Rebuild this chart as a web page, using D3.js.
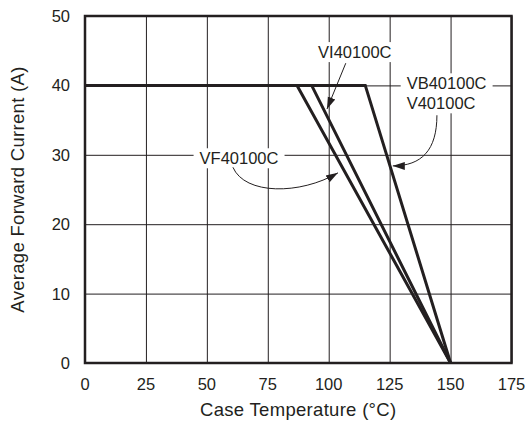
<!DOCTYPE html>
<html>
<head>
<meta charset="utf-8">
<script src="https://cdn.jsdelivr.net/npm/d3@7"></script>
<style>
  body { margin: 0; background: #fff; }
  text { font-family: "Liberation Sans", Arial, Helvetica, sans-serif; fill: #231f20; }
</style>
</head>
<body>
<div id="chart"></div>
<script>
// derating curves: flat at max current up to the knee, then linear down to 0 A
var seriesNames = ["VF40100C", "VI40100C", "VB40100C"];
var maxCurrent = [40, 40, 40];
var kneeTemps = [87, 93, 115];
var endTemps = [150, 150, 150];

var xTicks = [0, 25, 50, 75, 100, 125, 150, 175];
var yTicks = [0, 10, 20, 30, 40, 50];

const width = 525;
const height = 423;
const ink = "#231f20";

var svg = d3.select("#chart").append("svg")
    .attr("width", width)
    .attr("height", height);

var x = d3.scaleLinear().domain([0, 175]).range([85, 511.5]);
var y = d3.scaleLinear().domain([0, 50]).range([363, 16]);

// grid
svg.append("g")
    .attr("transform", "translate(0," + y(0) + ")")
    .call(d3.axisBottom(x).tickValues(xTicks).tickSize(-(y(0) - y(50))).tickFormat(""))
    .call(g => g.select(".domain").remove())
    .selectAll("line")
    .attr("stroke", ink)
    .attr("stroke-width", 1);

svg.append("g")
    .attr("transform", "translate(" + x(0) + ",0)")
    .call(d3.axisLeft(y).tickValues(yTicks).tickSize(-(x(175) - x(0))).tickFormat(""))
    .call(g => g.select(".domain").remove())
    .selectAll("line")
    .attr("stroke", ink)
    .attr("stroke-width", 1);

// tick labels
svg.append("g").selectAll("text")
    .data(xTicks).enter()
    .append("text")
    .attr("x", d => x(d))
    .attr("y", 390)
    .attr("text-anchor", "middle")
    .attr("font-size", "16.5px")
    .text(d => d);

svg.append("g").selectAll("text")
    .data(yTicks).enter()
    .append("text")
    .attr("x", 70)
    .attr("y", d => y(d) + 6)
    .attr("text-anchor", "end")
    .attr("font-size", "16.5px")
    .text(d => d);

// axis titles
svg.append("text")
    .attr("x", (x(0) + x(175)) / 2)
    .attr("y", 416)
    .attr("text-anchor", "middle")
    .attr("font-size", "18.5px")
    .attr("letter-spacing", "0.3px")
    .text("Case Temperature (°C)");

svg.append("text")
    .attr("transform", "translate(24," + (y(0) + y(50)) / 2 + ") rotate(-90)")
    .attr("text-anchor", "middle")
    .attr("font-size", "18.5px")
    .attr("letter-spacing", "0.3px")
    .text("Average Forward Current (A)");

// arrow marker
svg.append("defs").append("marker")
    .attr("id", "arrow")
    .attr("markerUnits", "userSpaceOnUse")
    .attr("viewBox", "0 -5 12 10")
    .attr("refX", 12)
    .attr("refY", 0)
    .attr("markerWidth", 12)
    .attr("markerHeight", 10)
    .attr("orient", "auto")
    .append("path")
    .attr("d", "M0,-4L12,0L0,4Z")
    .attr("fill", ink);

// label backgrounds + text
function label(lines, tx, ty, anchor, lineGap) {
    var g = svg.append("g");
    var bg = g.append("rect").attr("fill", "#fff");
    var t = g.append("text")
        .attr("font-size", "16.5px")
        .attr("text-anchor", anchor);
    lines.forEach((s, i) => {
        t.append("tspan")
            .attr("x", x(tx))
            .attr("y", y(ty) + 6 + i * lineGap)
            .text(s);
    });
    var b = t.node().getBBox();
    bg.attr("x", b.x - 6).attr("y", b.y - 1)
        .attr("width", b.width + 12).attr("height", b.height + 2);
}

var line = d3.line().x(d => x(d[0])).y(d => y(d[1]));

seriesNames.forEach((name, i) => {
    svg.append("path")
        .datum([[0, maxCurrent[i]], [kneeTemps[i], maxCurrent[i]], [endTemps[i], 0]])
        .attr("d", line)
        .attr("fill", "none")
        .attr("stroke", ink)
        .attr("stroke-width", 3)
        .attr("stroke-linejoin", "miter");
});

label(["VI40100C"], 110.7, 44.8, "middle", 0);
label(["VB40100C", "V40100C"], 132, 40.3, "start", 20);
label(["VF40100C"], 63.2, 29.5, "middle", 0);

// leaders
svg.append("path")
    .attr("d", "M" + x(107) + "," + y(43.2) + "L" + x(99.3) + "," + y(36.6))
    .attr("fill", "none")
    .attr("stroke", ink)
    .attr("stroke-width", 1)
    .attr("marker-end", "url(#arrow)");

svg.append("path")
    .attr("d", "M" + x(144.4) + "," + y(35.7) +
        "C" + x(144.4) + "," + y(30.7) + " " + x(138.2) + "," + y(28.4) + " " + x(126.3) + "," + y(28.4))
    .attr("fill", "none")
    .attr("stroke", ink)
    .attr("stroke-width", 1)
    .attr("marker-end", "url(#arrow)");

svg.append("path")
    .attr("d", "M" + x(60.7) + "," + y(28.2) +
        "C" + x(65.6) + "," + y(24.2) + " " + x(88.2) + "," + y(24.2) + " " + x(103.8) + "," + y(27.4))
    .attr("fill", "none")
    .attr("stroke", ink)
    .attr("stroke-width", 1)
    .attr("marker-end", "url(#arrow)");

// frame
svg.append("rect")
    .attr("x", x(0))
    .attr("y", y(50))
    .attr("width", x(175) - x(0))
    .attr("height", y(0) - y(50))
    .attr("fill", "none")
    .attr("stroke", ink)
    .attr("stroke-width", 2.5);
</script>
</body>
</html>
